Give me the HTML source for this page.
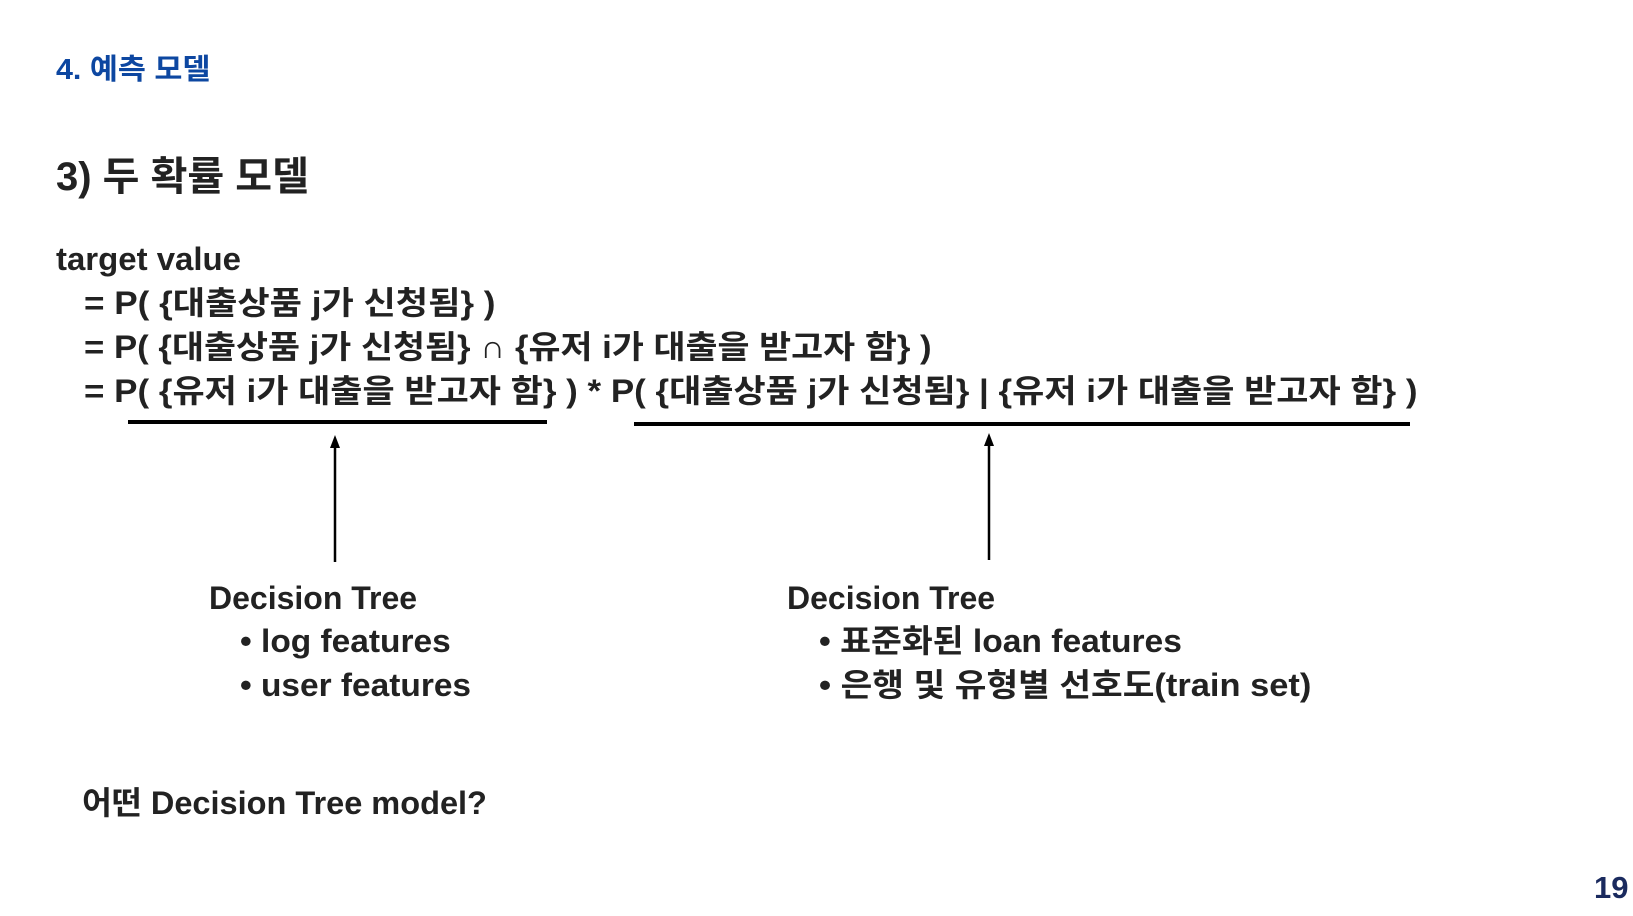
<!DOCTYPE html>
<html><head><meta charset="utf-8"><style>
body{margin:0;width:1633px;height:916px;background:#fff;position:relative;overflow:hidden;font-family:"Liberation Sans","Noto Sans CJK KR",sans-serif;font-weight:bold;color:#222;}
.t{position:absolute;white-space:nowrap;line-height:1;transform-origin:0 50%;}
.l{position:absolute;background:#000;}
</style></head><body>
<div class="t" style="left:56px;top:56px;font-size:29px;color:#0d47a1;transform:scaleX(1.05)">4. 예측 모델</div>
<div class="t" style="left:56px;top:157px;font-size:40px;transform:scaleX(1.0)">3) 두 확률 모델</div>
<div class="t" style="left:56px;top:243px;font-size:32px;transform:scaleX(1.03)">target value</div>
<div class="t" style="left:84px;top:287px;font-size:32px;transform:scaleX(1.097)">= P( {대출상품 j가 신청됨} )</div>
<div class="t" style="left:84px;top:331px;font-size:32px;transform:scaleX(1.087)">= P( {대출상품 j가 신청됨} ∩ {유저 i가 대출을 받고자 함} )</div>
<div class="t" style="left:84px;top:375px;font-size:32px;transform:scaleX(1.093)">= P( {유저 i가 대출을 받고자 함} ) * P( {대출상품 j가 신청됨} | {유저 i가 대출을 받고자 함} )</div>
<div class="l" style="left:128px;top:420px;width:419px;height:4px;"></div>
<div class="l" style="left:634px;top:422px;width:776px;height:4px;"></div>
<svg style="position:absolute;left:0;top:0" width="1633" height="916">
<line x1="335" y1="445" x2="335" y2="562" stroke="#000" stroke-width="2.5"/>
<polygon points="335,435 330,448 340,448" fill="#000"/>
<line x1="989" y1="443" x2="989" y2="560" stroke="#000" stroke-width="2.5"/>
<polygon points="989,433 984,446 994,446" fill="#000"/>
</svg>
<div class="t" style="left:209px;top:582px;font-size:32px;">Decision Tree</div>
<div class="t" style="left:240px;top:625px;font-size:32px;transform:scaleX(1.046)">• log features</div>
<div class="t" style="left:240px;top:669px;font-size:32px;transform:scaleX(1.045)">• user features</div>
<div class="t" style="left:787px;top:582px;font-size:32px;">Decision Tree</div>
<div class="t" style="left:819px;top:625px;font-size:32px;transform:scaleX(1.049)">• 표준화된 loan features</div>
<div class="t" style="left:819px;top:669px;font-size:32px;transform:scaleX(1.076)">• 은행 및 유형별 선호도(train set)</div>
<div class="t" style="left:82px;top:787px;font-size:32px;transform:scaleX(1.016)">어떤 Decision Tree model?</div>
<div class="t" style="left:1594px;top:872px;font-size:31px;color:#1a2a5e;">19</div>
</body></html>
